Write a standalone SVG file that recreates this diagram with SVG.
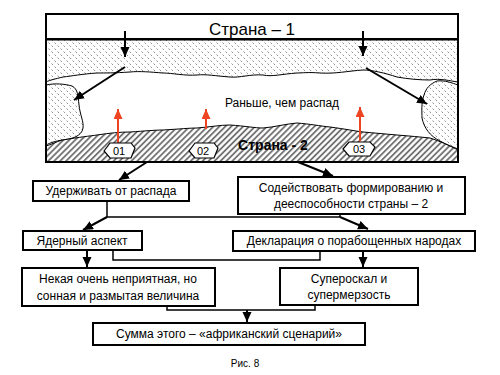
<svg xmlns="http://www.w3.org/2000/svg" width="500" height="375" viewBox="0 0 500 375">
<style>
text{font-family:"Liberation Sans",Arial,sans-serif;fill:#000}
.box{fill:#fff;stroke:#000;stroke-width:2}
.t12{font-size:12px;text-anchor:middle}
.ln{fill:none;stroke:#000;stroke-width:1.5}
.ar{fill:none;stroke:#000;stroke-width:2;marker-end:url(#ah)}
.red{fill:none;stroke:#ee4422;stroke-width:2;marker-end:url(#rh)}
.wave{stroke:#000;stroke-width:1}
.hex{fill:#fff;stroke:#000;stroke-width:1.2}
</style>
<defs>
<marker id="ah" markerUnits="userSpaceOnUse" markerWidth="11" markerHeight="10" refX="10" refY="4.5" orient="auto"><path d="M0,0 L10,4.5 L0,9 Z" fill="#000"/></marker>
<marker id="rh" markerUnits="userSpaceOnUse" markerWidth="11" markerHeight="10" refX="10" refY="4.5" orient="auto"><path d="M0,0 L10,4.5 L0,9 Z" fill="#ee4422"/></marker>
<pattern id="dots" width="6" height="6" patternUnits="userSpaceOnUse"><rect width="6" height="6" fill="#fff"/><path d="M0.5,0.5 l1.5,1.5 M3.5,3.5 l1.5,1.5" stroke="#888" stroke-width="0.9"/></pattern>
<pattern id="hatch" width="4.2" height="6" patternUnits="userSpaceOnUse" patternTransform="rotate(45)"><rect width="4.2" height="6" fill="#fff"/><line x1="1" y1="0" x2="1" y2="6" stroke="#666" stroke-width="1.7"/></pattern>
</defs>
<rect width="500" height="375" fill="#fff"/>

<g id="scene">
<rect x="46" y="14" width="412" height="148" fill="#fff"/>
<path class="wave" fill="url(#dots)" d="M46,40 H458 V82 C450,81 440,78 430,80 C420,80 408,79 397,77 C385,73 372,70 363,70 C348,71 335,74 320,73 C308,72 302,73 297,73 C282,74 272,77 263,75 C250,74 240,78 230,77 C216,76 206,74 197,75 C185,76 172,73 163,73 C150,72 140,71 130,72 C115,73 105,73 97,73 C82,74 72,76 63,77 C55,79 50,80 46,82 Z"/>
<path class="wave" fill="url(#dots)" d="M46,85 C55,83 65,84 72,86 C78,89 78,96 79,105 C80,115 84,122 83,128 C82,136 72,139 63,140 C55,141 50,143 46,145 Z"/>
<path class="wave" fill="url(#dots)" d="M458,85 C452,83 445,80 437,81 C430,84 426,88 424,95 C421,103 422,112 422,118 C424,128 430,136 440,141 C447,145 453,147 458,149 Z"/>
<path class="wave" fill="url(#hatch)" d="M46,146 C55,143 58,141 63,140 C80,137 90,136 97,135 C110,133 120,132 130,132 C145,131 155,130 163,130 C180,129 190,128 197,128 C210,127 220,125 230,125 C245,126 255,128 263,128 C275,127 285,124 297,123 C310,124 320,126 330,127 C345,129 355,131 363,132 C375,133 385,134 397,135 C410,136 420,137 430,138 C440,141 450,146 458,150 V162 H46 Z"/>
<rect x="46" y="14" width="412" height="148" fill="none" stroke="#000" stroke-width="2"/>
<line x1="46" y1="39" x2="458" y2="39" stroke="#000" stroke-width="2"/>
<text x="252" y="35" font-size="17" text-anchor="middle">Страна – 1</text>
<text x="282" y="107" font-size="12" text-anchor="middle">Раньше, чем распад</text>
<text x="273" y="150" font-size="14" font-weight="bold" text-anchor="middle">Страна - 2</text>
<line class="ar" x1="125" y1="31" x2="125" y2="57"/>
<line class="ar" x1="363" y1="31" x2="363" y2="56"/>
<line class="ar" x1="125" y1="67" x2="74" y2="100"/>
<line class="ar" x1="366" y1="68" x2="427" y2="104"/>
<line class="red" x1="118" y1="143" x2="118" y2="109"/>
<line class="red" x1="206" y1="129" x2="206" y2="109"/>
<line class="red" x1="360" y1="141" x2="360" y2="107"/>
<g id="h01"><path class="hex" d="M104,151 L110,143 L131,143 L135,148 L131,158 L110,158 Z"/><text x="119" y="155" font-size="11" text-anchor="middle">01</text></g>
<g id="h02"><path class="hex" d="M189,151 L195,143 L214,143 L218,148 L214,158 L195,158 Z"/><text x="203" y="155" font-size="11" text-anchor="middle">02</text></g>
<g id="h03"><path class="hex" d="M343,149 L349,142 L370,142 L375,147 L370,156 L349,156 Z"/><text x="359" y="153" font-size="11" text-anchor="middle">03</text></g>
</g>

<g id="connectors">
<line class="ar" x1="147" y1="162" x2="119" y2="180"/>
<line class="ar" x1="298" y1="162" x2="333" y2="176"/>
<polyline class="ln" points="107,201 107,217 340,217"/>
<line class="ln" x1="340" y1="214" x2="340" y2="217"/>
<line class="ar" x1="107" y1="217" x2="83" y2="230"/>
<line class="ar" x1="340" y1="217" x2="368" y2="229"/>
<line class="ar" x1="87" y1="250" x2="87" y2="267"/>
<polyline class="ln" points="113,250 113,260 320,260 320,251"/>
<line class="ar" x1="363" y1="251" x2="363" y2="267"/>
<polyline class="ln" points="167,306 167,310 315,310 315,305"/>
<line class="ar" x1="247" y1="310" x2="247" y2="322"/>
</g>

<g id="n-uderzh"><rect class="box" x="33" y="181" width="156" height="20"/><text class="t12" x="111" y="195">Удерживать от распада</text></g>
<g id="n-sodeist"><rect class="box" x="238" y="177" width="227" height="37"/><text class="t12" x="351" y="192">Содействовать формированию и</text><text class="t12" x="351" y="208">дееспособности страны – 2</text></g>
<g id="n-yader"><rect class="box" x="23" y="231" width="119" height="19"/><text class="t12" x="82" y="245">Ядерный аспект</text></g>
<g id="n-deklar"><rect class="box" x="233" y="231" width="242" height="20"/><text class="t12" x="354" y="245">Декларация о порабощенных народах</text></g>
<g id="n-nekaya"><rect class="box" x="22" y="268" width="193" height="38"/><text class="t12" x="118" y="283">Некая очень неприятная, но</text><text class="t12" x="118" y="300">сонная и размытая величина</text></g>
<g id="n-super"><rect class="box" x="280" y="268" width="138" height="37"/><text class="t12" x="349" y="283">Супероскал и</text><text class="t12" x="349" y="299">супермерзость</text></g>
<g id="n-summa"><rect class="box" x="93" y="323" width="272" height="22"/><text class="t12" x="229" y="338">Сумма этого – «африканский сценарий»</text></g>
<text x="245" y="367" font-size="10" text-anchor="middle">Рис. 8</text>
</svg>
